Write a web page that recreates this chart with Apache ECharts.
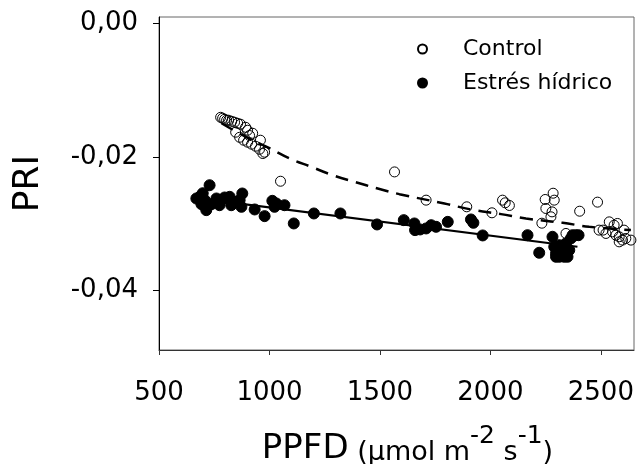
<!DOCTYPE html>
<html>
<head>
<meta charset="utf-8">
<script src="https://cdn.jsdelivr.net/npm/echarts@6/dist/echarts.min.js"></script>
<style>
html,body{margin:0;padding:0;background:#fff;}
#c{width:638px;height:464px;}
</style>
</head>
<body>
<div id="c"></div>
<script>
// ---- data ----
var controlPPFD = [779,788,797,806,815,829,842,856,869,901,924,959,865,883,901,919,937,955,978,970,892,910,847,
  1050,1566,1709,1893,2007,2055,2067,2086,2248,2284,2289,2251,2279,2274,2233,2342,2404,2485,
  2492,2510,2538,2560,2575,2553,2568,2583,2598,2613,2636,2583,2605,2523];
var controlPRI = [-0.01406,-0.0142,-0.01436,-0.0145,-0.0145,-0.01466,-0.0148,-0.01496,-0.0151,-0.0160,-0.01646,-0.0175,-0.01706,-0.0175,-0.0178,-0.0181,-0.0184,-0.01886,-0.0193,-0.0195,-0.01556,-0.0168,-0.0163,
  -0.02366,-0.02226,-0.0265,-0.0275,-0.0284,-0.0265,-0.0269,-0.0273,-0.0264,-0.02546,-0.0265,-0.02775,-0.02826,-0.0290,-0.02996,-0.0315,-0.02816,-0.0268,
  -0.0310,-0.0310,-0.02976,-0.03026,-0.0300,-0.03126,-0.03176,-0.0320,-0.0325,-0.03225,-0.0325,-0.03276,-0.0310,-0.0315];

var stressPPFD = [669,684,698,707,729,714,692,738,760,782,797,820,827,850,865,877,873,774,933,978,1013,1031,1023,1068,
  1110,1201,1321,1487,1608,1656,1659,1682,1709,1732,1754,1807,1912,1923,1965,2168,2221,2281,2289,2297,2319,2342,
  2349,2357,2364,2387,2399,2334,2312,2326,2297,2312,2372];
var stressPRI = [-0.02625,-0.0260,-0.02546,-0.0265,-0.02426,-0.0280,-0.0271,-0.0271,-0.02625,-0.0265,-0.0261,-0.0260,-0.02726,-0.02676,-0.0265,-0.0255,-0.0275,-0.02726,-0.0279,-0.0289,-0.0266,-0.0270,-0.0275,-0.02726,
  -0.0300,-0.0285,-0.0285,-0.03015,-0.0295,-0.0300,-0.0310,-0.0309,-0.03075,-0.03026,-0.0305,-0.02976,-0.0294,-0.0299,-0.0318,-0.03176,-0.0344,-0.0320,-0.0335,-0.0345,-0.03375,-0.0330,
  -0.0350,-0.0340,-0.03225,-0.03176,-0.03176,-0.0350,-0.0350,-0.0345,-0.0350,-0.03326,-0.03176];

// fitted curves
var controlFitPPFD = [783,887,1000,1092,1189,1287,1386,1490,1588,1792,1912,2048,2161,2327,2447,2636];
var controlFitPRI  = [-0.01496,-0.0169,-0.0187,-0.02025,-0.0215,-0.02276,-0.02376,-0.02475,-0.0256,-0.0270,-0.0279,-0.0286,-0.02925,-0.0299,-0.0305,-0.0310];
var stressFitPPFD = [670,2394];
var stressFitPRI  = [-0.0262,-0.0335];

var xTicks = [500,1000,1500,2000,2500];
var yTicks = [0,-0.02,-0.04];

var seriesNames = ['Control','Estrés hídrico'];

function zip(a,b){ return a.map(function(v,i){ return [v,b[i]]; }); }

var FONT = 'DejaVu Sans';
var chart = echarts.init(document.getElementById('c'), null, {renderer:'canvas'});
chart.setOption({
  animation:false,
  backgroundColor:'#fff',
  textStyle:{fontFamily:FONT,color:'#000'},
  grid:{left:159,right:4,top:17,bottom:114,outerBoundsMode:'none',containLabel:false,
        show:true,borderColor:'#666',borderWidth:1,backgroundColor:'transparent'},
  legend:{
    orient:'vertical',
    left:412, top:33,
    itemWidth:9,itemHeight:9,itemGap:12,
    icon:'circle',
    data:seriesNames,
    textStyle:{fontFamily:FONT,fontSize:22,color:'#000',padding:[0,0,0,31]}
  },
  xAxis:{
    type:'value',min:500,max:2650,
    axisLine:{show:true,onZero:false,lineStyle:{color:'#333',width:1}},
    axisTick:{show:true,length:5,inside:false,customValues:xTicks,lineStyle:{color:'#333'}},
    axisLabel:{fontFamily:FONT,fontSize:26,color:'#000',margin:30,customValues:xTicks,
      formatter:function(v){ return String(v); }},
    splitLine:{show:false},
    name:'{a|PPFD}{b| (μmol m}{s|-2}{b| s}{s|-1}{b|)}',
    nameLocation:'middle',nameGap:74,
    nameTextStyle:{
      padding:[0,0,0,22],
      rich:{
        a:{fontFamily:FONT,fontSize:34,color:'#000',lineHeight:42,verticalAlign:'bottom'},
        b:{fontFamily:FONT,fontSize:27,color:'#000',lineHeight:40,verticalAlign:'bottom'},
        s:{fontFamily:FONT,fontSize:25,color:'#000',lineHeight:38,verticalAlign:'top'}
      }
    }
  },
  yAxis:{
    type:'value',min:-0.049,max:0.001,
    axisLine:{show:true,onZero:false,lineStyle:{color:'#000',width:1}},
    axisTick:{show:true,length:6,inside:false,customValues:yTicks,lineStyle:{color:'#000'}},
    axisLabel:{fontFamily:FONT,fontSize:26,color:'#000',margin:21,customValues:yTicks,
      formatter:function(v){ return v.toFixed(2).replace('.',','); }},
    splitLine:{show:false},
    name:'PRI',nameLocation:'middle',nameGap:112,
    nameTextStyle:{fontFamily:FONT,fontSize:36,color:'#000'}
  },
  series:[
    {name:seriesNames[0],type:'scatter',z:2,symbol:'circle',symbolSize:10,
     itemStyle:{color:'rgba(255,255,255,0)',borderColor:'#000',borderWidth:1,opacity:1},
     data:zip(controlPPFD,controlPRI)},
    {name:seriesNames[1],type:'scatter',z:2,symbol:'circle',symbolSize:11,
     itemStyle:{color:'#000',borderColor:'#000',borderWidth:1,opacity:1},
     data:zip(stressPPFD,stressPRI)},
    {name:'controlFit',type:'line',z:3,smooth:0.4,showSymbol:false,silent:true,
     lineStyle:{color:'#000',width:2.5,type:[13,8]},
     data:zip(controlFitPPFD,controlFitPRI)},
    {name:'stressFit',type:'line',z:3,showSymbol:false,silent:true,
     lineStyle:{color:'#000',width:2.2},
     data:zip(stressFitPPFD,stressFitPRI)}
  ]
});
</script>
</body>
</html>
